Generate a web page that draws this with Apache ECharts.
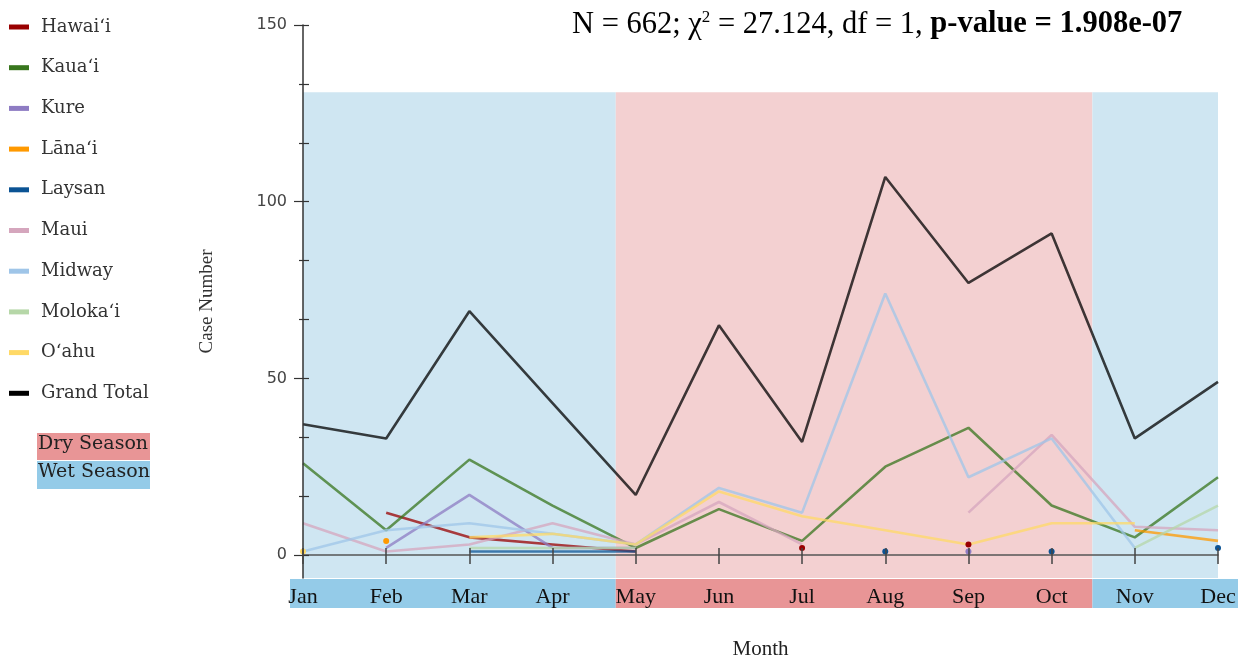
<!DOCTYPE html>
<html>
<head>
<meta charset="utf-8">
<script src="https://cdn.jsdelivr.net/npm/echarts@6/dist/echarts.min.js"></script>
<style>
  html, body { margin: 0; padding: 0; background: #fff; }
  #chart { width: 1246px; height: 658px; }
</style>
</head>
<body>
<div id="chart"></div>
<script>
// months on the x axis
var months = ['Jan', 'Feb', 'Mar', 'Apr', 'May', 'Jun', 'Jul', 'Aug', 'Sep', 'Oct', 'Nov', 'Dec'];

// case numbers per island, null = no cases that month
var hawaii    = [null, 12, 5, 3, 1, null, 2, null, 3, null, null, null];
var kauai     = [26, 7, 27, 14, 2, 13, 4, 25, 36, 14, 5, 22];
var kure      = [null, 2, 17, 2, 2, null, null, null, 1, null, null, null];
var lanai     = [null, 4, null, null, null, null, null, null, null, null, 7, 4];
var laysan    = [null, null, 1, 1, 1, null, null, 1, null, 1, null, 2];
var maui      = [9, 1, 3, 9, 3, 15, 3, null, 12, 34, 8, 7];
var midway    = [1, 7, 9, 6, 3, 19, 12, 74, 22, 33, 2, null];
var molokai   = [null, null, 2, 2, 2, null, null, null, null, null, 2, 14];
var oahu      = [1, null, 5, 6, 3, 18, 11, 7, 3, 9, 9, null];
var grandTotal = [37, 33, 69, 43, 17, 65, 32, 107, 77, 91, 33, 49];

var seriesNames  = ['Hawai\u02BBi', 'Kaua\u02BBi', 'Kure', 'L\u0101na\u02BBi', 'Laysan', 'Maui', 'Midway', 'Moloka\u02BBi', 'O\u02BBahu', 'Grand Total'];
var seriesValues = [hawaii, kauai, kure, lanai, laysan, maui, midway, molokai, oahu, grandTotal];
var seriesColors = ['#990000', '#38761d', '#8e7cc3', '#ff9900', '#0b5394', '#d5a6bd', '#9fc5e8', '#b6d7a8', '#ffd966', '#000000'];

// seasons, in month units along the x axis
var seasonType  = ['Wet', 'Dry', 'Wet'];
var seasonStart = [0, 3.76, 9.49];
var seasonEnd   = [3.76, 9.49, 11];
var seasonTop = 131;

// y ticks
var yLabels = [0, 50, 100, 150];
var yMinor  = [50 / 3, 100 / 3, 200 / 3, 250 / 3, 350 / 3, 400 / 3];

var bandColor  = { Wet: '#cfe6f2', Dry: '#f3d0d1' };
var stripColor = { Wet: '#94cbe8', Dry: '#e89596' };

var serif = '"Liberation Serif", "Times New Roman", serif';

function toData(arr) {
    return arr.map(function (v, i) {
        if (v == null) return [i, null];
        var alone = (i == 0 || arr[i - 1] == null) && (i == arr.length - 1 || arr[i + 1] == null);
        if (alone) return { value: [i, v], symbol: 'circle', symbolSize: 6 };
        return [i, v];
    });
}

var series = [];
// background season bands
series.push({
    type: 'line', xAxisIndex: 0, yAxisIndex: 0, data: [], silent: true,
    markArea: {
        silent: true,
        data: seasonType.map(function (t, i) {
            return [{ xAxis: seasonStart[i], yAxis: -6.5, itemStyle: { color: bandColor[t] } },
                    { xAxis: seasonEnd[i], yAxis: seasonTop }];
        })
    }
});
// the coloured strip under the month labels
series.push({
    type: 'line', xAxisIndex: 2, yAxisIndex: 3, data: [], silent: true,
    markArea: {
        silent: true,
        data: seasonType.map(function (t, i) {
            return [{ xAxis: i == 0 ? -0.2 : seasonStart[i], itemStyle: { color: stripColor[t] } },
                    { xAxis: i == seasonType.length - 1 ? 11.3 : seasonEnd[i] }];
        })
    }
});
for (var s = 0; s < seriesNames.length; s++) {
    series.push({
        name: seriesNames[s],
        type: 'line',
        xAxisIndex: 0,
        yAxisIndex: 0,
        data: toData(seriesValues[s]),
        symbol: 'none',
        showSymbol: true,
        connectNulls: false,
        color: seriesColors[s],
        itemStyle: { color: seriesColors[s] },
        lineStyle: { width: 2.6, opacity: 0.75 },
        emphasis: { disabled: true },
        z: 3
    });
}

var chart = echarts.init(document.getElementById('chart'));
chart.setOption({
    animation: false,
    backgroundColor: '#fff',
    title: {
        left: 572,
        top: 9,
        padding: 0,
        text: 'N = 662; \u03C7{sup|2} = 27.124, df = 1, {b|p-value = 1.908e-07}',
        textStyle: {
            fontFamily: serif, fontSize: 30.5, fontWeight: 'normal', color: '#000',
            rich: {
                sup: { fontFamily: serif, fontSize: 17, verticalAlign: 'top', color: '#000' },
                b: { fontFamily: serif, fontSize: 30.5, fontWeight: 'bold', color: '#000' }
            }
        }
    },
    legend: {
        orient: 'vertical',
        left: 9,
        top: 18,
        padding: 0,
        itemWidth: 20,
        itemHeight: 5,
        itemGap: 22.7,
        icon: 'rect',
        selectedMode: false,
        data: seriesNames,
        textStyle: { fontFamily: '"DejaVu Serif", serif', fontSize: 18, color: '#333', padding: [0, 0, 0, 7] }
    },
    graphic: [
        { type: 'rect', left: 37, top: 433, shape: { width: 113, height: 27 }, style: { fill: stripColor.Dry } },
        { type: 'rect', left: 37, top: 461, shape: { width: 113, height: 28 }, style: { fill: stripColor.Wet } },
        { type: 'text', left: 38, top: 435, style: { text: 'Dry Season', font: '19px "DejaVu Serif", serif', fill: '#222' } },
        { type: 'text', left: 38, top: 463, style: { text: 'Wet Season', font: '19px "DejaVu Serif", serif', fill: '#222' } }
    ],
    grid: [
        { left: 303, right: 28, top: 25, bottom: 80, outerBoundsMode: 'none', containLabel: false },
        { left: 290, right: 8, top: 579, height: 29, outerBoundsMode: 'none', containLabel: false }
    ],
    xAxis: [
        {
            type: 'value', gridIndex: 0, position: 'bottom', min: 0, max: 11, interval: 1, z: 6,
            name: 'Month', nameLocation: 'middle', nameGap: 61,
            nameTextStyle: { fontFamily: serif, fontSize: 21, color: '#222' },
            axisLine: { onZero: true, lineStyle: { color: '#555', width: 1.5 } },
            axisTick: { length: 9, lineStyle: { color: '#444', width: 1.5 } },
            axisLabel: {
                margin: 8, fontFamily: serif, fontSize: 22, color: '#111',
                formatter: function (v) { return months[v] || ''; }
            },
            splitLine: { show: false }
        },
        {
            type: 'value', gridIndex: 0, position: 'bottom', min: 0, max: 11, interval: 1, z: 6,
            axisLine: { show: false, onZero: true },
            axisTick: { inside: true, length: 7, lineStyle: { color: '#444', width: 1.5 } },
            axisLabel: { show: false },
            splitLine: { show: false }
        },
        { type: 'value', gridIndex: 1, min: -0.156, max: 11.24, show: false }
    ],
    yAxis: [
        {
            type: 'value', gridIndex: 0, position: 'left', min: -6.5, max: 150, z: 6,
            name: 'Case Number', nameLocation: 'middle', nameGap: 86, nameRotate: 90,
            nameTextStyle: { fontFamily: serif, fontSize: 19, color: '#333' },
            axisLine: { show: true, onZero: true, lineStyle: { color: '#333', width: 1.5 } },
            axisTick: { show: true, customValues: yLabels, length: 9, lineStyle: { color: '#333', width: 1.2 } },
            axisLabel: { customValues: yLabels, margin: 16, fontFamily: '"DejaVu Sans", sans-serif', fontSize: 16, color: '#444' },
            splitLine: { show: false }
        },
        {
            type: 'value', gridIndex: 0, position: 'left', min: -6.5, max: 150, z: 6,
            axisLine: { show: false },
            axisTick: { show: true, inside: true, customValues: yLabels.concat(yMinor), length: 6, lineStyle: { color: '#333', width: 1.2 } },
            axisLabel: { show: false },
            splitLine: { show: false }
        },
        {
            type: 'value', gridIndex: 0, position: 'left', min: -6.5, max: 150, z: 6,
            axisLine: { show: false },
            axisTick: { show: true, customValues: yMinor, length: 4, lineStyle: { color: '#333', width: 1.2 } },
            axisLabel: { show: false },
            splitLine: { show: false }
        },
        { type: 'value', gridIndex: 1, min: 0, max: 1, show: false }
    ],
    series: series
});
</script>
</body>
</html>
